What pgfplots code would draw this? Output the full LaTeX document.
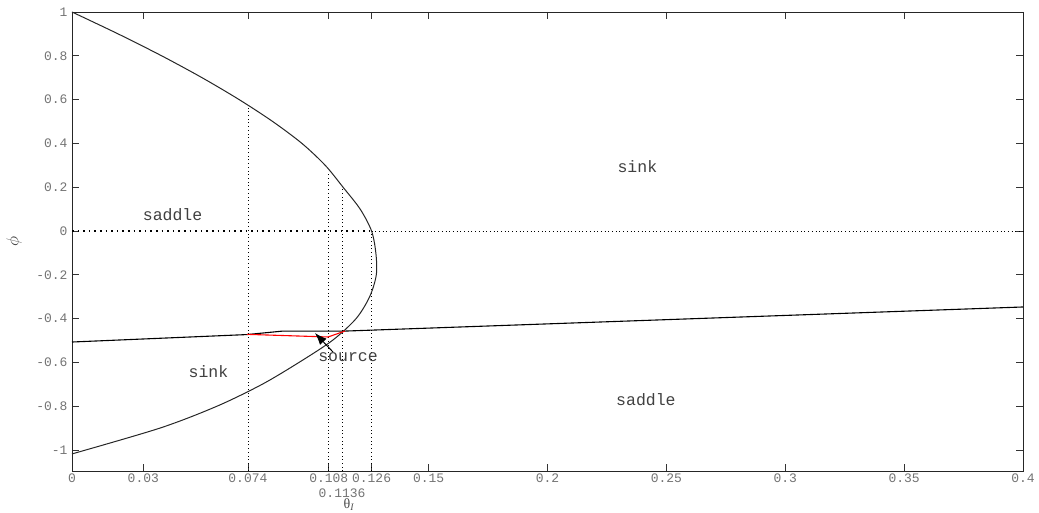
\documentclass[border=0pt]{standalone}
\usepackage{fontspec}
\setmainfont{Liberation Serif}
\newfontfamily\mono{Liberation Mono}
\usepackage{pgfplots}
\pgfplotsset{compat=1.18}
\usetikzlibrary{arrows.meta}

\pgfplotstableread{
x y
0 1
0.0194 0.9
0.0377 0.8
0.0547 0.7
0.0703 0.6
0.0844 0.5
0.0967 0.4
0.1065 0.3
0.1140 0.2
0.1212 0.1
0.1260 0
0.1278 -0.1
0.1280 -0.2
0.1252 -0.3
0.1195 -0.4
0.1095 -0.5
0.0955 -0.6
0.0800 -0.7
0.0610 -0.8
0.0370 -0.9
0 -1.018
}\bifcurve

\begin{document}
\begin{tikzpicture}
\begin{axis}[
  scale only axis, width=951pt, height=459pt,
  xmin=0, xmax=0.4, ymin=-1.096, ymax=1,
  axis line style={line width=0.9pt, black!85},
  tick align=inside, major tick length=7pt,
  tick style={black!80, line width=0.8pt},
  xtick={0,0.03,0.074,0.108,0.126,0.15,0.2,0.25,0.3,0.35,0.4},
  xticklabels={0,0.03,0.074,0.108,0.126,0.15,0.2,0.25,0.3,0.35,0.4},
  ytick={-1,-0.8,-0.6,-0.4,-0.2,0,0.2,0.4,0.6,0.8,1},
  yticklabels={-1,-0.8,-0.6,-0.4,-0.2,0,0.2,0.4,0.6,0.8,1},
  ticklabel style={font=\mono\fontsize{13}{13.5}\selectfont, text=black!55},
  xticklabel style={yshift=-1pt, inner sep=1.5pt},
  yticklabel style={xshift=-1pt},
  extra x ticks={0.1136}, extra x tick labels={0.1136},
  extra x tick style={major tick length=0pt, tick label style={yshift=-15pt, inner sep=0.5pt}},
  xlabel={\fontsize{14}{15}\selectfont θ\textsubscript{\itshape I}},
  xlabel style={at={(axis description cs:0.2912,0)}, anchor=center, yshift=-33.5pt, inner sep=0pt, text=black!70},
  ylabel={\fontsize{19}{20}\selectfont $\phi$},
  ylabel style={at={(axis description cs:0,0.5)}, anchor=center, yshift=58pt, text=black!75},
  clip=false,
]
% dotted guide lines
\addplot[black, line width=1.6pt, dash pattern=on 1.6pt off 4pt] coordinates {(0,0) (0.126,0)};
\addplot[black, line width=0.7pt, dash pattern=on 0.7pt off 3pt] coordinates {(0.126,0) (0.4,0)};
\addplot[black, line width=0.7pt, dash pattern=on 0.7pt off 3pt] coordinates {(0.074,-1.096) (0.074,0.575)};
\addplot[black, line width=0.7pt, dash pattern=on 0.7pt off 3pt] coordinates {(0.108,-1.096) (0.108,0.262)};
\addplot[black, line width=0.7pt, dash pattern=on 0.7pt off 3pt] coordinates {(0.1136,-1.096) (0.1136,0.196)};
\addplot[black, line width=0.7pt, dash pattern=on 0.7pt off 3pt] coordinates {(0.126,-1.096) (0.126,0)};
% curves
\addplot[black!85, line width=1pt, smooth, tension=0.5] table[x=x,y=y] {\bifcurve};
\addplot[black, line width=1.1pt] coordinates {(0,-0.507) (0.0736,-0.473) (0.0887,-0.457) (0.115,-0.457) (0.4,-0.347)};
\addplot[red, line width=1.1pt] coordinates {(0.0736,-0.472) (0.1077,-0.484) (0.1148,-0.457)};
\draw[-{Latex[length=12pt,width=9pt]}, line width=1pt] (axis cs:0.1098,-0.553) -- (axis cs:0.1022,-0.466);
% region labels
\node[font=\mono\fontsize{16.5}{17}\selectfont, text=black!75] at (axis cs:0.0423,0.073) {saddle};
\node[font=\mono\fontsize{16.5}{17}\selectfont, text=black!75] at (axis cs:0.2378,0.292) {sink};
\node[font=\mono\fontsize{16.5}{17}\selectfont, text=black!75] at (axis cs:0.0574,-0.644) {sink};
\node[font=\mono\fontsize{16.5}{17}\selectfont, text=black!75] at (axis cs:0.2414,-0.772) {saddle};
\node[font=\mono\fontsize{16.5}{17}\selectfont, text=black!75] at (axis cs:0.1161,-0.575) {source};
\end{axis}
\pgfresetboundingbox
\path (-72pt,-41pt) rectangle (967pt,471pt);
\end{tikzpicture}
\end{document}
